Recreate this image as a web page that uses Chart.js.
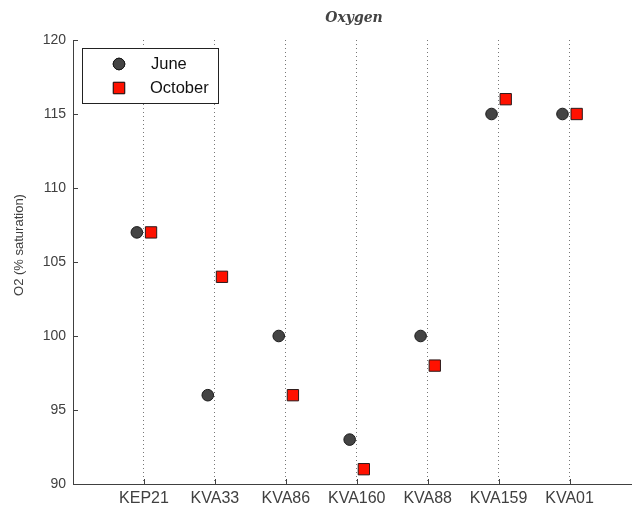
<!DOCTYPE html>
<html>
<head>
<meta charset="utf-8">
<script src="https://cdn.jsdelivr.net/npm/chart.js@4"></script>
<style>
  html, body { margin: 0; padding: 0; background: #fff; }
  #wrap { width: 632px; height: 508px; }
</style>
</head>
<body>
<div id="wrap"><canvas id="c" width="632" height="508"></canvas></div>
<script>
// Sampling stations along the x axis
const stations = ['KEP21', 'KVA33', 'KVA86', 'KVA160', 'KVA88', 'KVA159', 'KVA01'];
// O2 saturation (%) per station
const june    = [107, 96, 100, 93, 100, 115, 115];
const october = [107, 104, 96, 91, 98, 116, 115];
// y-axis tick values
const yTicks = [90, 95, 100, 105, 110, 115, 120];

const FONT = "'Liberation Sans', Arial, sans-serif";
const TEXT = '#404040';
const AXIS = '#404040';

// Draws inward tick marks, the title, the rotated y title and the boxed legend
const decorations = {
  id: 'decorations',
  afterDraw(chart) {
    const { ctx, chartArea: a, scales: { x, y } } = chart;
    ctx.save();
    ctx.strokeStyle = AXIS;
    ctx.lineWidth = 1;
    ctx.beginPath();
    yTicks.forEach(v => {
      const py = Math.round(y.getPixelForValue(v)) + 0.5;
      ctx.moveTo(a.left, py);
      ctx.lineTo(a.left + 5, py);
    });
    stations.forEach((s, i) => {
      const px = Math.round(x.getPixelForValue(i + 1)) + 0.5;
      ctx.moveTo(px, a.bottom);
      ctx.lineTo(px, a.bottom - 5);
    });
    ctx.stroke();

    // Title
    ctx.fillStyle = '#444';
    ctx.font = `italic bold 14px 'DejaVu Serif', serif`;
    ctx.textAlign = 'center';
    ctx.textBaseline = 'middle';
    ctx.fillText('Oxygen', 354, 18);

    // y-axis title
    ctx.save();
    ctx.translate(19, 245);
    ctx.rotate(-Math.PI / 2);
    ctx.fillStyle = TEXT;
    ctx.font = `13px ${FONT}`;
    ctx.fillText('O2 (% saturation)', 0, 0);
    ctx.restore();

    // Legend box
    const lx = 82.5, ly = 48.5, lw = 136, lh = 55;
    ctx.fillStyle = '#fff';
    ctx.fillRect(lx, ly, lw, lh);
    ctx.strokeStyle = '#222';
    ctx.strokeRect(lx, ly, lw, lh);
    chart.data.datasets.forEach((ds, i) => {
      const cy = 64 + i * 24;
      ctx.fillStyle = ds.pointBackgroundColor;
      ctx.strokeStyle = ds.pointBorderColor;
      ctx.lineWidth = ds.pointBorderWidth;
      ctx.beginPath();
      Chart.helpers.drawPoint(ctx, {
        pointStyle: ds.pointStyle,
        radius: ds.pointRadius,
        borderWidth: ds.pointBorderWidth
      }, 119, cy);
      ctx.fill();
      ctx.stroke();
      ctx.fillStyle = '#111';
      ctx.font = `16.5px ${FONT}`;
      ctx.textAlign = 'left';
      ctx.fillText(ds.label, i === 0 ? 151 : 150, cy);
    });
    ctx.restore();
  }
};

new Chart(document.getElementById('c'), {
  type: 'scatter',
  data: {
    datasets: [
      {
        label: 'June',
        data: june.map((v, i) => ({ x: i + 1 - 0.1, y: v })),
        pointStyle: 'circle',
        pointRadius: 5.8,
        pointHoverRadius: 5.8,
        pointBackgroundColor: '#444444',
        pointBorderColor: '#1a1a1a',
        pointBorderWidth: 1
      },
      {
        label: 'October',
        data: october.map((v, i) => ({ x: i + 1 + 0.1, y: v })),
        pointStyle: 'rect',
        pointRadius: 8,
        pointHoverRadius: 8,
        pointBackgroundColor: '#ff1100',
        pointBorderColor: '#2a1a1a',
        pointBorderWidth: 1
      }
    ]
  },
  options: {
    responsive: false,
    devicePixelRatio: 1,
    animation: false,
    events: [],
    layout: { autoPadding: false, padding: { top: 40, right: 0, left: 0, bottom: 0 } },
    plugins: {
      legend: { display: false },
      title: { display: false },
      tooltip: { enabled: false }
    },
    scales: {
      x: {
        type: 'linear',
        min: 0,
        max: 7.88,
        afterBuildTicks: s => { s.ticks = stations.map((n, i) => ({ value: i + 1 })); },
        afterFit: s => { s.height = 24; s.paddingLeft = 0; s.paddingRight = 0; },
        ticks: {
          callback: v => stations[v - 1],
          color: TEXT,
          font: { family: FONT, size: 16 },
          padding: 5,
          maxRotation: 0,
          autoSkip: false
        },
        grid: { color: '#777', lineWidth: 1, drawTicks: false },
        border: { display: true, color: AXIS, width: 1, dash: [1, 3] }
      },
      y: {
        min: 90,
        max: 120,
        afterBuildTicks: s => { s.ticks = yTicks.map(v => ({ value: v })); },
        afterFit: s => { s.width = 73; },
        ticks: {
          color: TEXT,
          font: { family: FONT, size: 14 },
          padding: 7
        },
        grid: { display: false, drawTicks: false },
        border: { display: true, color: AXIS, width: 1 }
      }
    }
  },
  plugins: [decorations]
});
</script>
</body>
</html>
